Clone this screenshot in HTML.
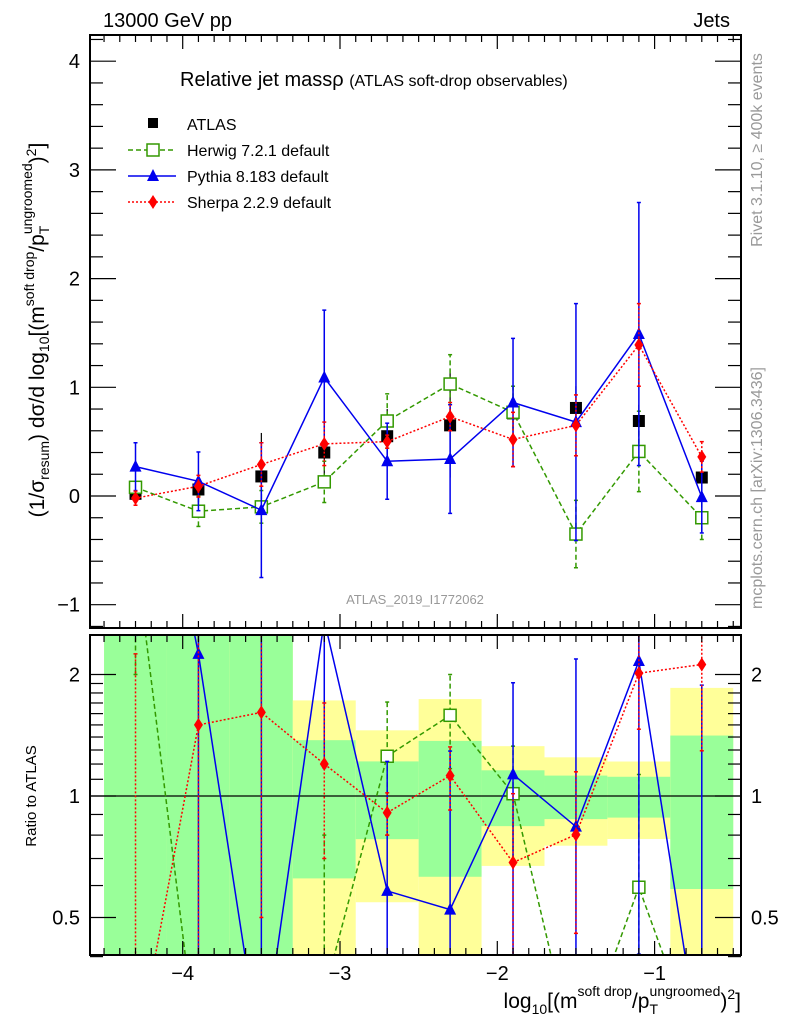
<!DOCTYPE html>
<html><head><meta charset="utf-8"><style>
html,body{margin:0;padding:0;background:#fff;width:786px;height:1024px;overflow:hidden;position:relative;}
svg{display:block;font-family:"Liberation Sans",sans-serif;}
</style></head><body>
<svg id="c" width="786" height="1024" viewBox="0 0 786 1024" style="position:absolute;left:0;top:0"></svg>
<svg width="786" height="1024" style="position:absolute;left:0;top:0;font-family:'Liberation Sans',sans-serif">
<text x="103" y="27" font-size="20">13000 GeV pp</text>
<text x="730" y="27" font-size="20" text-anchor="end">Jets</text>
<text x="180" y="86" font-size="20">Relative jet massρ <tspan font-size="16">(ATLAS soft-drop observables)</tspan></text>
<g font-size="16">
<g><rect x="148" y="118" width="10" height="10" fill="#000"/><text x="187" y="130">ATLAS</text></g>
<g><line x1="128" x2="176" y1="150" y2="150" stroke="#339900" stroke-width="1.5" stroke-dasharray="5,3"/><rect x="147" y="144" width="12" height="12" fill="#fff" stroke="#339900" stroke-width="1.5"/><text x="187" y="156">Herwig 7.2.1 default</text></g>
<g><line x1="128" x2="176" y1="176" y2="176" stroke="#0000ee" stroke-width="1.5"/><path d="M153,169L159,181L147,181Z" fill="#0000ee"/><text x="187" y="182">Pythia 8.183 default</text></g>
<g><line x1="128" x2="176" y1="202" y2="202" stroke="#ff0000" stroke-width="1.5" stroke-dasharray="2,2"/><path d="M153,195L157.5,202L153,209L148.5,202Z" fill="#ff0000"/><text x="187" y="208">Sherpa 2.2.9 default</text></g>
</g>
<text x="415" y="604" font-size="13" fill="#999" text-anchor="middle">ATLAS_2019_I1772062</text>
<text transform="translate(762,150) rotate(-90)" font-size="16" fill="#999" text-anchor="middle">Rivet 3.1.10, ≥ 400k events</text>
<text transform="translate(762,488) rotate(-90)" font-size="16" fill="#999" text-anchor="middle">mcplots.cern.ch [arXiv:1306.3436]</text>
<text transform="translate(44,330) rotate(-90)" font-size="21" text-anchor="middle">(1/σ<tspan font-size="14" dy="5">resum</tspan><tspan dy="-5">) dσ/d log</tspan><tspan font-size="14" dy="5">10</tspan><tspan dy="-5">[(m</tspan><tspan font-size="14" dy="-10">soft drop</tspan><tspan dy="10">/p</tspan><tspan font-size="14" dy="5">T</tspan><tspan font-size="14" dx="-8" dy="-17">ungroomed</tspan><tspan dy="12">)</tspan><tspan font-size="14" dy="-8">2</tspan><tspan dy="8">]</tspan></text>
<text transform="translate(36,796) rotate(-90)" font-size="15" text-anchor="middle">Ratio to ATLAS</text>
<text x="741" y="1008" font-size="21" text-anchor="end">log<tspan font-size="14" dy="6">10</tspan><tspan dy="-6">[(m</tspan><tspan font-size="14" dy="-12">soft drop</tspan><tspan dy="12">/p</tspan><tspan font-size="14" dy="6">T</tspan><tspan font-size="14" dx="-8" dy="-18">ungroomed</tspan><tspan dy="12">)</tspan><tspan font-size="14" dy="-9">2</tspan><tspan dy="9">]</tspan></text>
</svg>
<script>
const xCenters=[-4.3,-3.9,-3.5,-3.1,-2.7,-2.3,-1.9,-1.5,-1.1,-0.7];
const binEdges=[-4.5,-4.1,-3.7,-3.3,-2.9,-2.5,-2.1,-1.7,-1.3,-0.9,-0.5];
const atlasVals=[0.02,0.06,0.18,0.40,0.55,0.65,0.76,0.81,0.69,0.17];
const atlasStat=[0.05,0.10,0.27,0.15,0.12,0.24,0.12,0.10,0.08,0.07];
const atlasTot=[0.08,0.15,0.40,0.29,0.25,0.48,0.25,0.20,0.15,0.145];
const herwigVals=[0.08,-0.14,-0.10,0.13,0.69,1.03,0.77,-0.35,0.41,-0.20];
const herwigErr=[0.04,0.14,0.15,0.19,0.25,0.27,0.24,0.31,0.37,0.20];
const pythiaVals=[0.27,0.135,-0.13,1.09,0.32,0.34,0.86,0.68,1.49,-0.01];
const pythiaErr=[0.22,0.27,0.62,0.62,0.35,0.50,0.59,1.09,1.21,0.33];
const sherpaVals=[-0.02,0.09,0.29,0.48,0.50,0.73,0.52,0.65,1.39,0.36];
const sherpaErr=[0.065,0.10,0.20,0.20,0.06,0.13,0.25,0.28,0.38,0.14];
const yTicksMain=[-1,0,1,2,3,4];
const xTicks=[-4,-3,-2,-1];
const ratioTicks=[0.5,1,2];

const NS="http://www.w3.org/2000/svg";
const svg=document.getElementById('c');
const L=90,R=741,MT=35,MB=628,RT=635,RB=955;
const X=v=>340+(v+3)*157.3;
const Y=v=>496-v*108.7;
const YR=r=>796-Math.log2(Math.max(r,0.22))*121.5;
function el(t,a,p){const e=document.createElementNS(NS,t);for(const k in a)e.setAttribute(k,a[k]);(p||svg).appendChild(e);return e;}
function txt(s,a,p){const e=el('text',a,p);e.textContent=s;return e;}

const defs=el('defs',{});
const c1=el('clipPath',{id:'cm'},defs);el('rect',{x:L,y:MT,width:R-L,height:MB-MT},c1);
const c2=el('clipPath',{id:'cr'},defs);el('rect',{x:L,y:RT,width:R-L,height:RB-RT},c2);

const gB=el('g',{'clip-path':'url(#cr)'});


for(let i=0;i<xCenters.length;i++){
  const x0=X(binEdges[i]),x1=X(binEdges[i+1]),v=atlasVals[i];
  const tu=YR(1+atlasTot[i]/v),tl=YR(1-atlasTot[i]/v);
  const su=YR(1+atlasStat[i]/v),sl=YR(1-atlasStat[i]/v);
  const y1=el('rect',{x:x0,y:tu,width:x1-x0,height:tl-tu,fill:'#ffff99'},gB);
  
  
  const g1=el('rect',{x:x0,y:su,width:x1-x0,height:sl-su,fill:'#99ff99'},gB);
  
  
}
el('line',{x1:L,x2:R,y1:YR(1),y2:YR(1),stroke:'#000','stroke-width':1.2});

const series=[
 {n:'herwig',v:herwigVals,e:herwigErr,c:'#339900',d:'5,3',m:'sq'},
 {n:'pythia',v:pythiaVals,e:pythiaErr,c:'#0000ee',d:'',m:'tri'},
 {n:'sherpa',v:sherpaVals,e:sherpaErr,c:'#ff0000',d:'2,2',m:'dia'}
];
function marker(m,x,y,c,p){
  if(m==='sq')return el('rect',{x:x-6,y:y-6,width:12,height:12,fill:'#fff',stroke:c,'stroke-width':1.5},p);
  if(m==='tri')return el('path',{d:`M${x},${y-7}L${x+6},${y+5}L${x-6},${y+5}Z`,fill:c},p);
  if(m==='dia')return el('path',{d:`M${x},${y-7}L${x+4.5},${y}L${x},${y+7}L${x-4.5},${y}Z`,fill:c},p);
  return el('rect',{x:x-6,y:y-6,width:12,height:12,fill:'#000'},p);
}
function drawPanel(clip,fy,ratio){
  const g=el('g',{'clip-path':'url('+clip+')'});
  
  
  for(const s of series){
    const gs=el('g',{},g);
    
    
    const val=i=>ratio?s.v[i]/atlasVals[i]:s.v[i];
    const lo=i=>ratio?(s.v[i]-s.e[i])/atlasVals[i]:s.v[i]-s.e[i];
    const hi=i=>ratio?(s.v[i]+s.e[i])/atlasVals[i]:s.v[i]+s.e[i];
    for(let i=0;i<xCenters.length;i++){
      const x=X(xCenters[i]);
      el('line',{x1:x,x2:x,y1:fy(lo(i)),y2:fy(hi(i)),stroke:s.c,'stroke-width':1.5,'stroke-dasharray':s.d},gs);
      el('line',{x1:x-2,x2:x+2,y1:fy(lo(i)),y2:fy(lo(i)),stroke:s.c,'stroke-width':1.5},gs);
      el('line',{x1:x-2,x2:x+2,y1:fy(hi(i)),y2:fy(hi(i)),stroke:s.c,'stroke-width':1.5},gs);
    }
    const pts=xCenters.map((xv,i)=>X(xv)+','+fy(val(i))).join(' ');
    el('polyline',{points:pts,fill:'none',stroke:s.c,'stroke-width':1.5,'stroke-dasharray':s.d},gs);
    for(let i=0;i<xCenters.length;i++){const mk=marker(s.m,X(xCenters[i]),fy(val(i)),s.c,gs);
      
      }
  }
  return g;
}
const ga=el('g',{'clip-path':'url(#cm)'});


for(let i=0;i<xCenters.length;i++){
  const x=X(xCenters[i]);
  el('line',{x1:x,x2:x,y1:Y(atlasVals[i]-atlasTot[i]),y2:Y(atlasVals[i]+atlasTot[i]),stroke:'#000','stroke-width':1.2},ga);
  const mk=marker('atlas',x,Y(atlasVals[i]),'#000',ga);
  
  
}
drawPanel('#cm',Y,false);
drawPanel('#cr',YR,true);

for(const [t,b,n] of [[MT,MB,'main-frame'],[RT,RB,'ratio-frame']]){
  const f=el('rect',{x:L,y:t,width:R-L,height:b-t,fill:'none',stroke:'#000','stroke-width':2});
  
}
const gt=el('g',{stroke:'#000','stroke-width':1.2});


for(let v=-4.5;v<=-0.45;v+=0.1){
  const x=X(v),maj=Math.abs(v-Math.round(v))<0.01;const h=maj?14:7;
  for(const [t,b] of [[MT,MB],[RT,RB]]){el('line',{x1:x,x2:x,y1:t,y2:t+h},gt);el('line',{x1:x,x2:x,y1:b,y2:b-h},gt);}
}
for(let v=-1.2;v<=4.21;v+=0.2){
  const y=Y(v),maj=Math.abs(v-Math.round(v))<0.01;const h=maj?26:13;
  el('line',{x1:L,x2:L+h,y1:y,y2:y},gt);el('line',{x1:R,x2:R-h,y1:y,y2:y},gt);
}
const rminor=[0.4,0.5,0.6,0.7,0.8,0.9,1,2];
for(const r of rminor){const y=YR(r);const maj=(r===0.5||r===1||r===2);const h=maj?26:13;
  el('line',{x1:L,x2:L+h,y1:y,y2:y},gt);el('line',{x1:R,x2:R-h,y1:y,y2:y},gt);}
for(let r=1.1;r<1.95;r+=0.1){const y=YR(r);el('line',{x1:L,x2:L+13,y1:y,y2:y},gt);el('line',{x1:R,x2:R-13,y1:y,y2:y},gt);}

for(const v of yTicksMain){const t=txt(v<0?'\u22121':String(v),{x:80,y:Y(v)+7,'font-size':20,'text-anchor':'end'});
  }
for(const r of ratioTicks){
  const a=txt(String(r),{x:80,y:YR(r)+7,'font-size':20,'text-anchor':'end'});
  
  const b=txt(String(r),{x:751,y:YR(r)+7,'font-size':20});
  
}
for(const v of xTicks){const t=txt('\u2212'+Math.abs(v),{x:X(v),y:980,'font-size':20,'text-anchor':'middle'});
  }
</script>
</body></html>
